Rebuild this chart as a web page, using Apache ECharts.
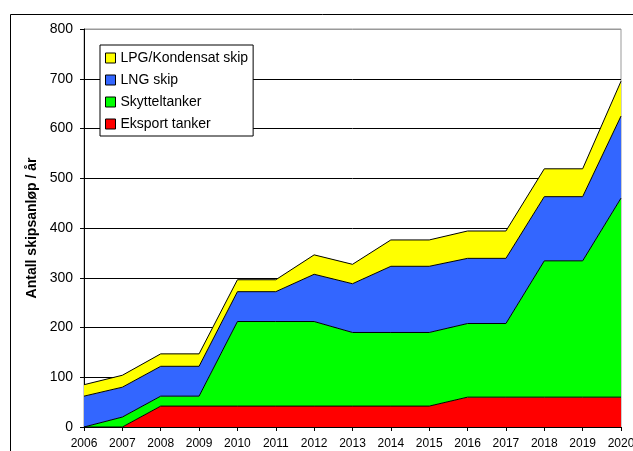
<!DOCTYPE html>
<html><head><meta charset="utf-8">
<script src="https://cdn.jsdelivr.net/npm/echarts@6/dist/echarts.min.js"></script>
<style>html,body{margin:0;padding:0;background:#fff}#c{width:633px;height:451px}</style>
</head><body><div id="c"></div>
<script>
const years = ['2006','2007','2008','2009','2010','2011','2012','2013','2014','2015','2016','2017','2018','2019','2020'];
const eksportTanker = [0,0,42,42,42,42,42,42,42,42,60,60,60,60,60];
const skytteltanker = [0,20,20,20,170,170,170,148,148,148,148,148,274,274,400];
const lngSkip = [62,60,60,60,60,60,95,98,133,133,131,131,129,129,165];
const lpgSkip = [23,24,25,25,24,24,39,39,53,53,55,55,56,56,70];
const yTicks = [0,100,200,300,400,500,600,700,800];

const FONT = '"Liberation Sans", Arial, sans-serif';
const chart = echarts.init(document.getElementById('c'), null, {renderer:'canvas'});
function s(name, data, color){
  return {name, type:'line', stack:'total', data, symbol:'none', showSymbol:false,
    lineStyle:{color:'#000', width:1}, areaStyle:{color, opacity:1},
    itemStyle:{color, borderColor:'#000', borderWidth:1}, emphasis:{disabled:true}, z:2};
}
chart.setOption({
  animation:false,
  textStyle:{fontFamily:FONT},
  graphic:[{type:'rect', shape:{x:10.5,y:14.5,width:800,height:600}, style:{fill:null, stroke:'#000', lineWidth:1}, z:-10}],
  grid:{left:84, right:12, top:29, bottom:24, outerBoundsMode:'none', containLabel:false,
    show:true, borderColor:'#999', borderWidth:1, backgroundColor:'transparent'},
  legend:{left:100, top:45, orient:'vertical', backgroundColor:'#fff', borderColor:'#000', borderWidth:1,
    padding:[6,5,5,5], itemGap:8, itemWidth:10, itemHeight:10, icon:'rect', z:10,
    textStyle:{fontFamily:FONT, fontSize:14, color:'#000'},
    itemStyle:{borderColor:'#000', borderWidth:1},
    data:['LPG/Kondensat skip','LNG skip','Skytteltanker','Eksport tanker']},
  xAxis:{type:'category', data:years, boundaryGap:false,
    axisLine:{lineStyle:{color:'#000', width:1}},
    axisTick:{show:true, length:4, lineStyle:{color:'#000'}},
    axisLabel:{color:'#000', fontSize:12, fontFamily:FONT, margin:11, interval:0},
    splitLine:{show:false}},
  yAxis:{type:'value', min:yTicks[0], max:yTicks[yTicks.length-1], interval:100,
    name:'Antall skipsanløp / år', nameLocation:'middle', nameGap:44,
    nameTextStyle:{fontSize:14, fontWeight:'bold', color:'#000', fontFamily:FONT},
    axisLine:{show:true, lineStyle:{color:'#000', width:1}},
    axisTick:{show:true, length:4, lineStyle:{color:'#000'}},
    axisLabel:{color:'#000', fontSize:14, fontFamily:FONT, margin:11},
    splitLine:{show:true, lineStyle:{color:['#000','#000','#000','#000','#000','#000','#000','#000','#999'], width:1}}},
  series:[
    s('Eksport tanker', eksportTanker, '#FF0000'),
    s('Skytteltanker', skytteltanker, '#00FF00'),
    s('LNG skip', lngSkip, '#3366FF'),
    s('LPG/Kondensat skip', lpgSkip, '#FFFF00')
  ]
});
</script></body></html>
